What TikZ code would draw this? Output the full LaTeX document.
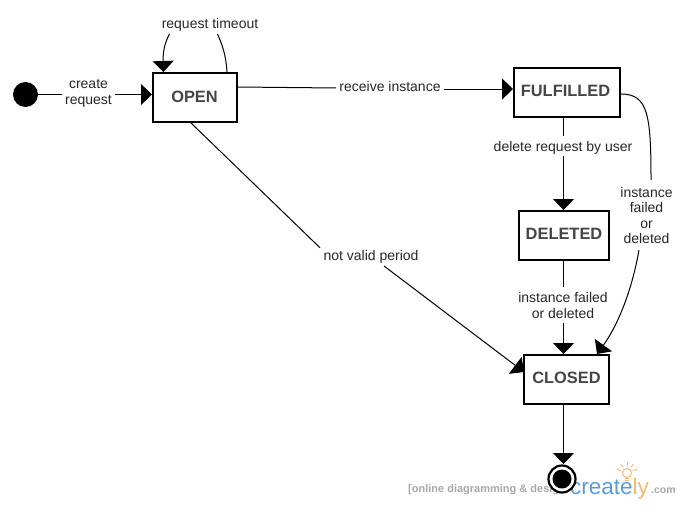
\documentclass[tikz,border=0pt]{standalone}
\usepackage{fontspec}
\setmainfont{Liberation Sans}
\usetikzlibrary{arrows.meta,positioning}
\definecolor{nodetext}{HTML}{444444}
\definecolor{wmgrey}{HTML}{A8A8A8}
\definecolor{logoblue}{HTML}{5B9BD5}
\definecolor{logoorange}{HTML}{F8B870}
\tikzset{
  x=1pt,y=-1pt,
  statebox/.style={draw=black,line width=2pt,fill=white,minimum width=#1,minimum height=49pt,inner sep=0pt,
    font=\fontsize{16.4}{18}\selectfont\bfseries,text=nodetext},
  edgelabel/.style={font=\fontsize{14}{16}\selectfont,align=center,inner xsep=3pt,inner ysep=2pt,text=black!85},
  link/.style={draw=black,line width=1pt},
  arrowlink/.style={link,-{Triangle[length=11pt,width=21pt]}},
  startdot/.style={circle,fill=black,minimum size=25pt,inner sep=0pt},
  enddot/.style={circle,fill=black,minimum size=19pt,inner sep=0pt},
  endring/.style={circle,draw=black,line width=2.2pt,fill=white,minimum size=27pt,inner sep=0pt},
}
\begin{document}
\begin{tikzpicture}
\useasboundingbox (0,0) rectangle (684,519);
% watermark
\node[anchor=west,font=\fontsize{11}{12}\selectfont\bfseries,text=wmgrey,inner sep=0pt] (wm) at (408,489.5) {[online diagramming \& design};
\node[anchor=west,font=\fontsize{22.5}{26}\selectfont,inner sep=0pt] (logo) at (570,489) {\textcolor{logoblue}{create}\textcolor{logoorange}{ly}};
\node[anchor=west,font=\fontsize{10.5}{12}\selectfont\bfseries,text=wmgrey,inner sep=0pt] (dotcom) at (651,491) {.com};
\draw[logoorange,line width=1pt,fill=white] (627,473) circle (4.5pt);
\draw[logoorange,line width=1pt] (625,478)--(629,478) (625,480.5)--(629,480.5);
\foreach \a in {-160,-125,-90,-55,-20}
  \draw[logoorange,line width=1pt] (627,473) ++(\a:-7) ++(\a:14) -- ++(\a:4);
% states
\node[statebox=84pt] (open) at (195,97.5) {\raisebox{1.5pt}{OPEN}\hspace*{1pt}};
\node[statebox=106pt] (ful) at (567,92.5) {\raisebox{2.5pt}{FULFILLED}\hspace*{3pt}};
\node[statebox=90pt] (del) at (564,235.5) {\raisebox{2.5pt}{DELETED}};
\node[statebox=85pt] (clo) at (566.5,379.5) {\raisebox{3pt}{CLOSED}};
\node[startdot] (start) at (25.5,94.5) {};
\node[endring] (endo) at (562,479) {};
\node[enddot] (endi) at (562,479) {};
% labels
\node[edgelabel] (lcreate) at (88.5,93.5) {create\\[-0.5pt]request};
\node[edgelabel] (ltime) at (210,24.5) {request timeout};
\node[edgelabel] (lrec) at (390,86) {receive instance};
\node[edgelabel] (ldel) at (563,147.5) {delete request by user};
\node[edgelabel] (lfail) at (646.5,215.5) {instance\\[-0.5pt]failed\\[-0.5pt]or\\[-0.5pt]deleted};
\node[edgelabel] (linst) at (563,305.5) {instance failed\\[-0.5pt]or deleted};
\node[edgelabel] (lval) at (371,256.5) {not valid period};
% connectors
\draw[link] (start.east) -- (start.east -| lcreate.west);
\draw[arrowlink] (start.east -| lcreate.east) -- (start.east -| open.west);
\draw[link] (open.north east) ++(-11,0) coordinate (tA) .. controls (226,55) and (222,44) .. (217.5,34) coordinate (tB);
\draw[arrowlink] (169.5,34) coordinate (tC) .. controls (163,46) and (163,56) .. (163.5,72) coordinate (tD);
\draw[link] (open.east |- 0,87) -- (lrec.west |- 0,88);
\draw[arrowlink] (lrec.east |- 0,89) -- (ful.west |- 0,89);
\draw[link] (563.5,117) -- (563.5,136);
\draw[arrowlink] (563.5,156) -- (563.5,210);
\draw[link] (ful.east |- 0,94) .. controls (648,94) and (651,115) .. (651,180);
\draw[arrowlink] (639,250) .. controls (632,290) and (618,325) .. (597,354);
\draw[link] (563.5,260) -- (563.5,287);
\draw[arrowlink] (563.5,323) -- (563.5,354);
\draw[link] (190,122) -- (lval.north -| 320,0);
\draw[arrowlink] (384,266) -- (524,372);
\draw[arrowlink] (563.5,404) -- (563.5,464);
\end{tikzpicture}
\end{document}
